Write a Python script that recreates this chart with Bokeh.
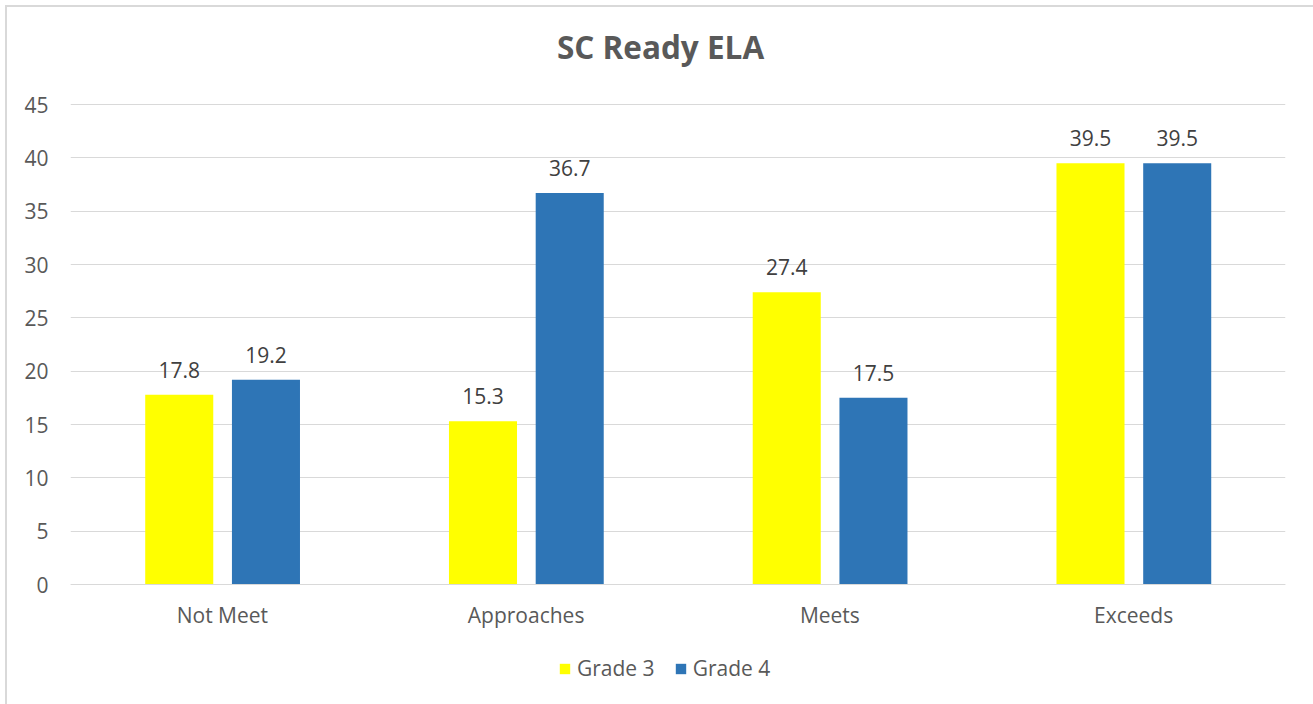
from bokeh.plotting import figure
from bokeh.models import (ColumnDataSource, FactorRange, Range1d, Legend, LegendItem,
                          FixedTicker, Label)
from bokeh.transform import dodge
from bokeh.core.properties import value
from bokeh.embed import file_html
from bokeh.resources import INLINE

# ---- data ----
categories = ["Not Meet", "Approaches", "Meets", "Exceeds"]
grade3 = [17.8, 15.3, 27.4, 39.5]
grade4 = [19.2, 36.7, 17.5, 39.5]
series_names = ["Grade 3", "Grade 4"]
y_ticks = [0, 5, 10, 15, 20, 25, 30, 35, 40, 45]
title_text = "SC Ready ELA"

FONT = "Open Sans"
GRAY = "#595959"

src = ColumnDataSource(dict(
    cat=categories, g3=grade3, g4=grade4,
    g3_lbl=[f"{v:.1f}" for v in grade3],
    g4_lbl=[f"{v:.1f}" for v in grade4],
))

# the frame covers nearly the whole canvas so that title, x labels and legend are
# drawn inside it; y=0 sits at 584px and y=45 at 104px
p = figure(x_range=FactorRange(factors=categories, range_padding=0),
           y_range=Range1d(-10.875, 54.375),
           width=1313, height=704, output_backend="svg", toolbar_location=None,
           min_border_left=70, min_border_right=28, min_border_top=4, min_border_bottom=4)
p.styles = {"box-shadow": "inset 5px 5px 0 0 white, inset 7px 7px 0 0 #D9D9D9"}
p.outline_line_color = None
p.background_fill_alpha = 0
p.border_fill_alpha = 0

p.xgrid.grid_line_color = None
p.ygrid.grid_line_color = "#D9D9D9"
p.ygrid.grid_line_width = 1

p.yaxis.ticker = FixedTicker(ticks=y_ticks)
p.yaxis.axis_line_color = None
p.yaxis.major_tick_line_color = None
p.yaxis.minor_tick_line_color = None
p.yaxis.major_label_standoff = 16
p.yaxis.major_label_text_font = FONT
p.yaxis.major_label_text_font_size = "21px"
p.yaxis.major_label_text_color = GRAY

p.xaxis.fixed_location = 0
p.xaxis.axis_line_color = "#D9D9D9"
p.xaxis.axis_line_width = 1
p.xaxis.major_tick_line_color = None
p.xaxis.minor_tick_line_color = None
p.xaxis.major_label_standoff = 10
p.xaxis.major_label_text_font = FONT
p.xaxis.major_label_text_font_size = "21px"
p.xaxis.major_label_text_color = GRAY

off3, off4, bw = -0.142, 0.1435, 0.224
r3 = p.vbar(x=dodge("cat", off3, range=p.x_range), top="g3", bottom=0, width=bw, source=src,
            fill_color="#FFFF00", line_color=None)
r4 = p.vbar(x=dodge("cat", off4, range=p.x_range), top="g4", bottom=0, width=bw, source=src,
            fill_color="#2E75B6", line_color=None)

for off, col, lbl in [(off3, "g3", "g3_lbl"), (off4, "g4", "g4_lbl")]:
    p.text(x=dodge("cat", off, range=p.x_range), y=col, text=lbl, source=src,
           text_align="center", text_baseline="alphabetic", y_offset=-25,
           text_font=value(FONT), text_font_size="21px", text_color="#404040")

title = Label(x=590, y=654, x_units="screen", y_units="screen", text=title_text,
              text_align="center", text_baseline="alphabetic", text_font=FONT,
              text_font_size="31.5px", text_font_style="bold", text_color=GRAY)
p.add_layout(title)

legend = Legend(items=[LegendItem(label=series_names[0], renderers=[r3]),
                       LegendItem(label=series_names[1], renderers=[r4])],
                orientation="horizontal", location=(488, 18), padding=0, margin=0,
                spacing=19, label_standoff=6, glyph_width=13, glyph_height=13,
                label_text_font=FONT, label_text_font_size="21px", label_text_color=GRAY,
                border_line_color=None, background_fill_alpha=0)
p.add_layout(legend, "center")

open("out.html", "w").write(file_html(p, INLINE))
